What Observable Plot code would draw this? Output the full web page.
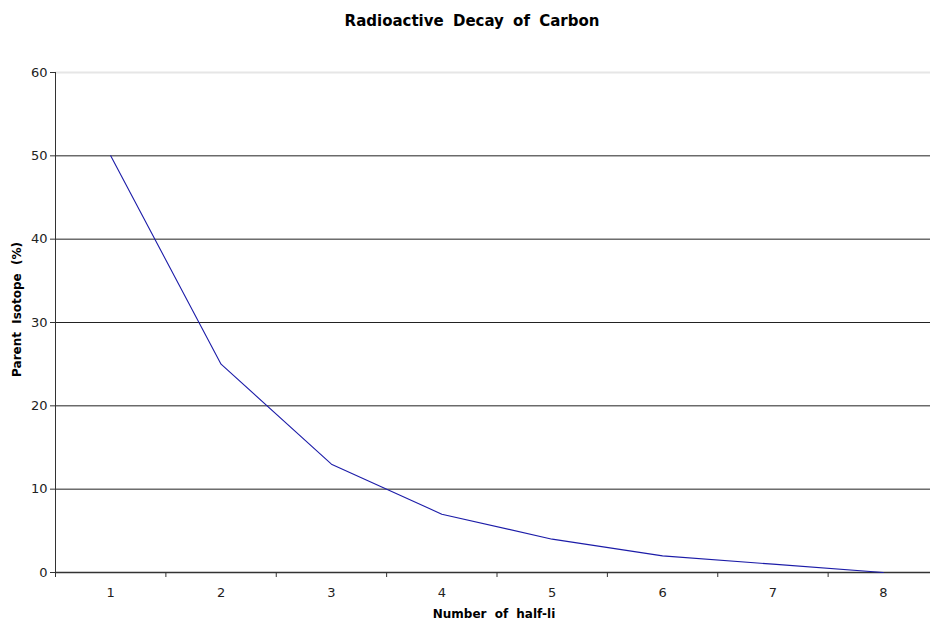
<!DOCTYPE html>
<html><head><meta charset="utf-8">
<script src="https://cdn.jsdelivr.net/npm/d3@7"></script>
<script src="https://cdn.jsdelivr.net/npm/@observablehq/plot@0.6"></script>
<style>
html,body{margin:0;padding:0;background:#fff;overflow:hidden;width:930px;height:621px}
#title{height:40px;width:930px;text-align:center;font:bold 15px "DejaVu Sans",Verdana,sans-serif;word-spacing:4px;line-height:42px;color:#000;padding-left:14px;box-sizing:border-box}
svg{overflow:hidden}
</style></head><body>
<div id="title">Radioactive Decay of Carbon</div>
<div id="chart"></div>
<script>
const halfLives = [1, 2, 3, 4, 5, 6, 7, 8];
const parentPct = [50, 25, 13, 7, 4, 2, 1, 0];
const yTicks = [0, 10, 20, 30, 40, 50, 60];
const xLabel = "Number of half-li";
const yLabel = "Parent Isotope (%)";

const data = halfLives.map((h, i) => ({h, p: parentPct[i]}));
const bounds = [halfLives[0] - 0.5, ...halfLives.map(h => h + 0.5)];
const font = "DejaVu Sans, Verdana, sans-serif";

const chart = Plot.plot({
  width: 930,
  height: 581,
  marginTop: 32,
  marginBottom: 49,
  marginLeft: 55,
  marginRight: 0,
  style: {fontFamily: font, fontSize: "12px", color: "#222", background: "#fff", overflow: "hidden"},
  x: {type: "linear", domain: [bounds[0], bounds[bounds.length - 1]], range: [55, 938]},
  y: {type: "linear", domain: [0, 60]},
  marks: [
    Plot.ruleY(yTicks.filter(v => v > 0 && v < 60), {stroke: "#222", strokeWidth: 1}),
    Plot.ruleY([60], {stroke: "#e6e6e6", strokeWidth: 2}),
    Plot.ruleX([bounds[0]], {y1: 0, y2: 60, stroke: "#333"}),
    Plot.ruleY([0], {stroke: "#333", strokeWidth: 1.5}),
    Plot.axisX({ticks: bounds.slice(0, -1), tickSize: 5, tickFormat: () => "", stroke: "#333", label: null}),
    Plot.axisY({ticks: yTicks, tickSize: 5, tickPadding: 3, tickFormat: d => d, fontSize: 13, stroke: "#333", label: null}),
    Plot.axisX({ticks: halfLives, tickSize: 0, tickPadding: 15, tickFormat: d => d, fontSize: 13, label: null}),
    Plot.text([xLabel], {frameAnchor: "bottom", dx: 1, dy: 45, text: d => d, fontWeight: "bold", fontSize: 12, fill: "#000"}),
    Plot.text([yLabel], {frameAnchor: "left", dx: -38, dy: -13, rotate: -90, textAnchor: "middle", text: d => d, fontWeight: "bold", fontSize: 12, fill: "#000"}),
    Plot.line(data, {x: "h", y: "p", stroke: "#1c1ca8", strokeWidth: 1.1})
  ]
});
chart.querySelectorAll("text").forEach(t => { if (t.textContent.includes(" ")) t.style.wordSpacing = "4px"; });
document.getElementById("chart").appendChild(chart);
</script>
</body></html>
